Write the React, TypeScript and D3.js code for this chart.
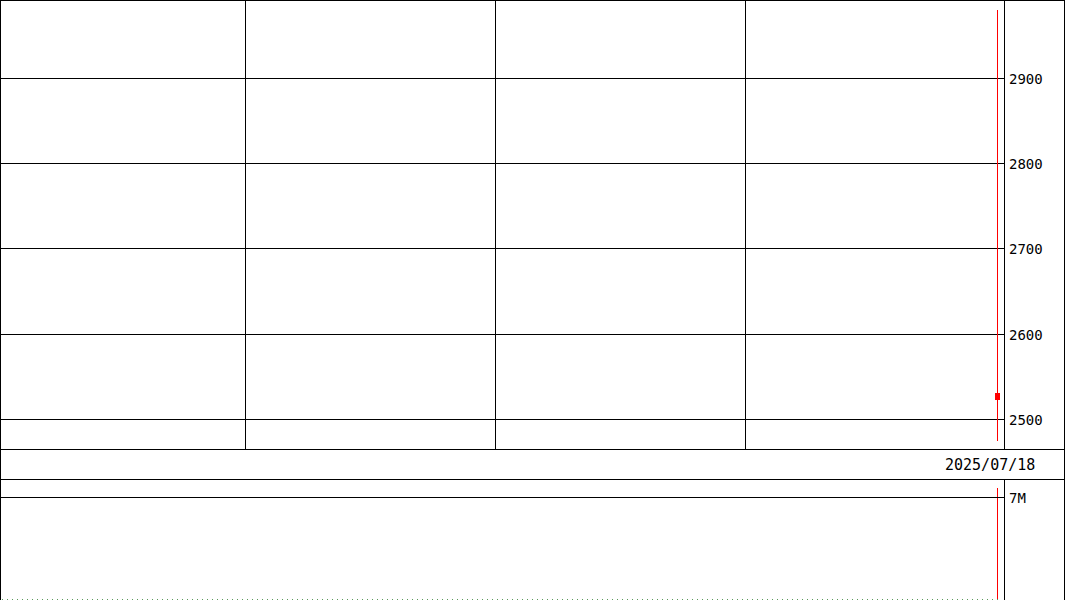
import React from "react";
import * as d3 from "d3";

// ---- data ----
const slotCount = 200; // trading-day slots across the chart
const gridSlots = [49, 99, 149]; // slots where vertical grid lines start
const priceTicks = [2500, 2600, 2700, 2800, 2900];
const volumeTicks = [7_000_000];
const volumeTickLabels = ["7M"];
const candleSlot = [199];
const candleOpen = [2522];
const candleClose = [2530];
const candleUp = [true];
const lastDateLabel = "2025/07/18";
const markerSlot = 199;

const W = 1065;
const H = 600;
const plotRight = 1000;
const axisX = 1004.5;
const priceTop = 0.5;
const priceBottom = 449.5;
const dateBottom = 479.5;

export default function App() {
  const x = d3.scaleBand<number>().domain(d3.range(slotCount)).range([0, plotRight]).padding(0);
  const y = d3.scaleLinear().domain([2500, 2900]).range([418.8, 78]);
  const yv = d3.scaleLinear().domain([0, 7_000_000]).range([599, 497]);
  const px = (v: number) => Math.round(v) + 0.5;
  const font = "'DejaVu Sans Mono', monospace";
  const markerX = Math.floor((x(markerSlot) ?? 0) + x.bandwidth() / 2) + 0.5;

  return (
    <svg
      width={W}
      height={H}
      style={{ position: "absolute", left: 0, top: 0, background: "#fff" }}
      shapeRendering="crispEdges"
    >
      <rect x={0} y={0} width={W} height={H} fill="#fff" />
      {/* price pane horizontal grid */}
      {priceTicks.map((t) => (
        <line key={t} x1={0} x2={axisX} y1={px(y(t))} y2={px(y(t))} stroke="#000" />
      ))}
      {/* vertical grid */}
      {gridSlots.map((s) => (
        <line key={s} x1={px(x(s) ?? 0)} x2={px(x(s) ?? 0)} y1={0} y2={priceBottom} stroke="#000" />
      ))}
      {/* price labels */}
      {priceTicks.map((t) => (
        <text key={t} x={1009} y={px(y(t)) + 1} dominantBaseline="middle" fontFamily={font} fontSize={14} fill="#000">
          {t}
        </text>
      ))}
      {/* marker line */}
      <line x1={markerX} x2={markerX} y1={10} y2={441} stroke="#ff0000" />
      <line x1={markerX} x2={markerX} y1={488} y2={600} stroke="#ff0000" />
      {/* candles */}
      {candleSlot.map((s, i) => {
        const top = y(Math.max(candleOpen[i], candleClose[i]));
        const bot = y(Math.min(candleOpen[i], candleClose[i]));
        return (
          <rect
            key={s}
            x={x(s)}
            y={Math.round(top)}
            width={x.bandwidth()}
            height={Math.round(bot) - Math.round(top)}
            fill={candleUp[i] ? "#ff0000" : "#0000ff"}
          />
        );
      })}
      {/* volume grid */}
      {volumeTicks.map((t, i) => (
        <g key={t}>
          <line x1={0} x2={axisX} y1={px(yv(t))} y2={px(yv(t))} stroke="#000" />
          <text x={1009} y={px(yv(t)) + 1} dominantBaseline="middle" fontFamily={font} fontSize={14} fill="#000">
            {volumeTickLabels[i]}
          </text>
        </g>
      ))}
      {/* volume baseline dotted */}
      <line x1={2} x2={plotRight} y1={599.5} y2={599.5} stroke="#5a9a5a" strokeDasharray="1 4" />
      {/* frames */}
      <rect x={0.5} y={priceTop} width={W - 1} height={priceBottom - priceTop} fill="none" stroke="#000" />
      <line x1={0} x2={W} y1={dateBottom} y2={dateBottom} stroke="#000" />
      <line x1={0.5} x2={0.5} y1={priceBottom} y2={H} stroke="#000" />
      <line x1={W - 0.5} x2={W - 0.5} y1={priceBottom} y2={H} stroke="#000" />
      <line x1={axisX} x2={axisX} y1={0} y2={priceBottom} stroke="#000" />
      <line x1={axisX} x2={axisX} y1={dateBottom} y2={H} stroke="#000" />
      <text x={945} y={465} dominantBaseline="middle" fontFamily={font} fontSize={15} fill="#000">
        {lastDateLabel}
      </text>
    </svg>
  );
}
